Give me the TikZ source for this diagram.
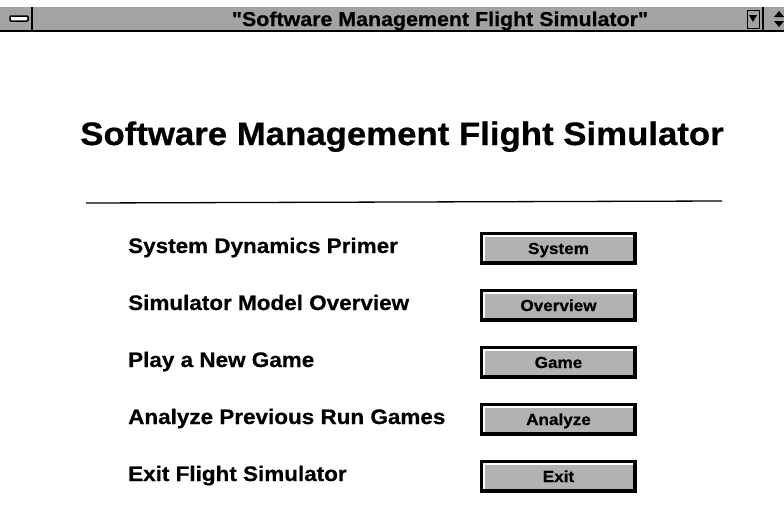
\documentclass[tikz,border=0pt]{standalone}
\usepackage{fontspec}
\setmainfont{Liberation Sans}
% slightly widened, heavier face for the screen lettering
\newfontfamily\screenfont[FakeStretch=1.07,FakeBold=0.6]{Liberation Sans Bold}
\begin{document}
\begin{tikzpicture}[x=1pt,y=-1pt,
  barfill/.style={fill=black!36},
  menulabel/.style={anchor=base west,inner sep=0pt,font=\fontsize{21}{24}\screenfont},
  btntext/.style={anchor=base,inner sep=0pt,font=\fontsize{16}{18}\screenfont},
]
\useasboundingbox (0,0) rectangle (784,523);
\fill[white] (0,0) rectangle (784,523);

% window caption bar
\fill[barfill] (0,7) rectangle (784,31);
\draw[line width=1.5pt] (0,31) -- (784,31);
\draw[line width=1.2pt] (32,7) -- (32,31);
\draw[line width=1.5pt,fill=white,rounded corners=1pt] (10,16) rectangle (28,21);
\draw[line width=1.2pt] (763,7) -- (763,31);
\draw[line width=1pt] (747,10) rectangle (759,28);
\fill (749,15) -- (757,15) -- (753,22) -- cycle;
\fill (774,17) -- (784,17) -- (779,11) -- cycle;
\fill (774,21) -- (784,21) -- (779,27) -- cycle;
\node[inner sep=0pt,anchor=base,font=\fontsize{20}{24}\screenfont] (caption) at (440,26) {"Software Management Flight Simulator"};

% heading and rule
\node[inner sep=0pt,anchor=base,font=\fontsize{32.5}{40}\screenfont] (heading) at (402,145) {Software Management Flight Simulator};
\coordinate (ruleL) at (86,203);
\coordinate (ruleR) at (722,201);
\draw[line width=1.3pt] (ruleL) -- (ruleR);

% menu entries and their buttons
\foreach \i/\lab/\btn in {0/System Dynamics Primer/System,
                          1/Simulator Model Overview/Overview,
                          2/Play a New Game/Game,
                          3/Analyze Previous Run Games/Analyze,
                          4/Exit Flight Simulator/Exit}{
  \pgfmathsetmacro{\yy}{232+57*\i}
  \node[menulabel] (lab\i) at (128,\yy+21) {\lab};
  \fill[black] (480,\yy) rectangle (637,\yy+33);
  \fill[white] (483,\yy+3) rectangle (633,\yy+29);
  \fill[black!30] (484.5,\yy+4.5) rectangle (633,\yy+29);
  \node[btntext] (btn\i) at (558.5,\yy+22) {\btn};
}
\end{tikzpicture}
\end{document}
